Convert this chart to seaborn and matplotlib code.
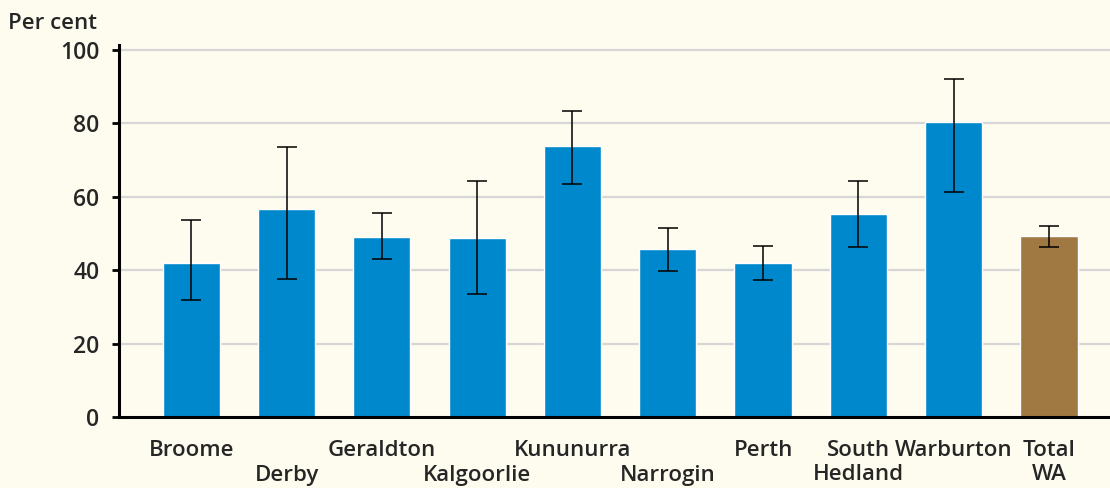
import numpy as np
import pandas as pd
import seaborn as sns
import matplotlib.pyplot as plt
import matplotlib.transforms as mtransforms

regions = ["Broome", "Derby", "Geraldton", "Kalgoorlie", "Kununurra",
           "Narrogin", "Perth", "South Hedland", "Warburton", "Total WA"]
row1 = ["Broome", "", "Geraldton", "", "Kununurra",
        "", "Perth", "South", "Warburton", "Total"]
row2 = ["", "Derby", "", "Kalgoorlie", "",
        "Narrogin", "", "Hedland", "", "WA"]
values = [42.0, 56.8, 49.2, 48.9, 73.8, 45.9, 42.0, 55.3, 80.5, 49.3]
err_low = [32.0, 37.7, 43.2, 33.6, 63.4, 39.9, 37.4, 46.3, 61.3, 46.4]
err_high = [53.6, 73.5, 55.5, 64.2, 83.3, 51.6, 46.5, 64.4, 92.2, 52.0]

bg = "#FEFCEE"
blue = "#0088CC"
brown = "#A07842"
colors = [blue] * 9 + [brown]

sns.set_theme(style="white")
plt.rcParams['font.family'] = ['Open Sans', 'DejaVu Sans']

df = pd.DataFrame({"region": regions, "value": values})

fig = plt.figure(figsize=(11.1, 4.88), dpi=100, facecolor=bg)
ax = fig.add_axes([0.107, 0.145, 0.893, 0.763])
ax.set_facecolor(bg)

for y in [20, 40, 60, 80, 100]:
    ax.axhline(y, color="#D6D6D6", lw=1.6, zorder=0)

sns.barplot(data=df, x="region", y="value", hue="region", palette=colors,
            legend=False, width=0.6, saturation=1, ax=ax, zorder=2)

pos = np.arange(len(regions))
v = np.array(values)
yerr = [v - np.array(err_low), np.array(err_high) - v]
ax.errorbar(pos, v, yerr=yerr, fmt="none", ecolor="black", elinewidth=1.1,
            capsize=7, capthick=1.1, zorder=3)

ax.set_xlim(-0.76, 9.64)
ax.set_ylim(0, 101.4)
ax.set_yticks([0, 20, 40, 60, 80, 100])
ax.set_xticks(pos)
ax.set_xticklabels([])
ax.tick_params(axis="y", labelsize=16.5, length=5, width=2, color="black",
               direction="out", pad=9, left=True)
ax.tick_params(axis="x", length=0)
for lab in ax.get_yticklabels():
    lab.set_fontweight("semibold")
ax.set_xlabel("")
ax.set_ylabel("")

# category labels in two staggered rows
trans = mtransforms.blended_transform_factory(ax.transData, fig.transFigure)
for i, (a, b) in enumerate(zip(row1, row2)):
    if a:
        ax.text(i, 1 - 450 / 488, a, transform=trans, ha="center", va="center",
                fontsize=16, fontweight="semibold")
    if b:
        ax.text(i, 1 - 475 / 488, b, transform=trans, ha="center", va="center",
                fontsize=16, fontweight="semibold")

for side in ["top", "right"]:
    ax.spines[side].set_visible(False)
for side in ["left", "bottom"]:
    ax.spines[side].set_linewidth(2.2)
    ax.spines[side].set_color("black")

fig.text(0.007, 0.952, "Per cent", fontsize=16, fontweight="semibold",
         ha="left", va="center")

fig.savefig("out.png", dpi=100, facecolor=bg)
